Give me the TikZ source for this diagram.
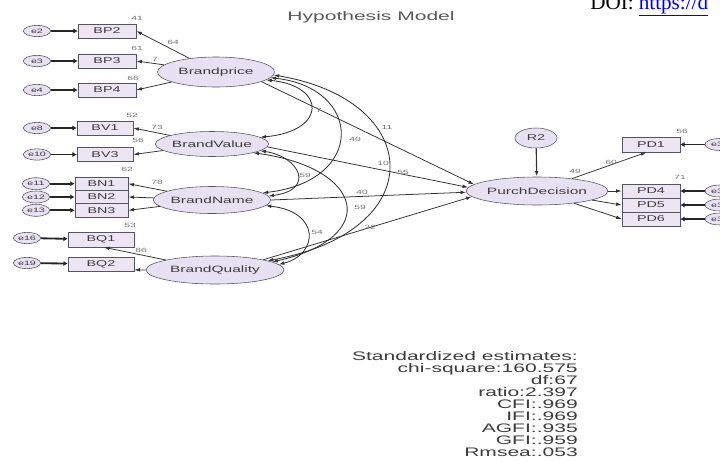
\documentclass[tikz,border=0pt]{standalone}
\usepackage{fontspec}
\usetikzlibrary{positioning, shapes.geometric, arrows.meta, calc}
\newfontfamily\amosfont[FakeStretch=1.7]{Liberation Sans}
\newfontfamily\doifont{Liberation Serif}
\definecolor{latfill}{RGB}{232,224,243}
\definecolor{boxfill}{RGB}{237,229,243}
\definecolor{edgegray}{RGB}{85,85,95}
\definecolor{txtgray}{RGB}{60,60,60}
\definecolor{doiblue}{RGB}{0,0,238}
\tikzset{
	latent/.style={shape=ellipse, draw=edgegray, fill=latfill, inner sep=0pt, text=txtgray, font={\amosfont\fontsize{6.5}{7}\selectfont}},
	errvar/.style={shape=ellipse, draw=edgegray, fill=latfill, inner sep=0pt, minimum width=0.68cm, minimum height=0.28cm, text=txtgray, font={\amosfont\fontsize{4.5}{5}\selectfont}},
	indic/.style={shape=rectangle, draw=edgegray, fill=boxfill, inner sep=0pt, minimum width=1.45cm, minimum height=0.36cm, text=txtgray, font={\amosfont\fontsize{6}{7}\selectfont}},
	est/.style={inner sep=0pt, text=black!55, font={\amosfont\fontsize{4.3}{5}\selectfont}},
	regpath/.style={draw=black!80, line width=0.55pt, -{Latex[length=4pt, width=2.6pt]}},
	covpath/.style={draw=black!80, line width=0.6pt, {Latex[length=4pt, width=2.6pt]}-{Latex[length=4pt, width=2.6pt]}},
	errpath/.style={draw=black!85, line width=1.3pt, -{Latex[length=3pt, width=3.6pt]}},
}
\begin{document}
\begin{tikzpicture}[x=0.025cm, y=-0.025cm]
		\useasboundingbox (0,0) rectangle (720,461);
		\node[anchor=base west, inner sep=0pt, font={\doifont\fontsize{15}{16}\selectfont}] (doi) at (590,9) {DOI: \textcolor{doiblue}{\underline{https://d}}};
		\node[anchor=base, inner sep=0pt, text=black!65, font={\amosfont\fontsize{8.8}{10}\selectfont}] (title) at (371,20) {Hypothesis Model};
		
		\node[latent, minimum width=2.925cm, minimum height=0.75cm] (bprice) at (216,72) {Brandprice};
		\node[latent, minimum width=2.75cm, minimum height=0.625cm] (bvalue) at (212,144) {BrandValue};
		\node[latent, minimum width=2.825cm, minimum height=0.675cm] (bname) at (212,200) {BrandName};
		\node[latent, minimum width=3.45cm, minimum height=0.7cm] (bquality) at (215,270) {BrandQuality};
		\node[latent, minimum width=2.75cm, minimum height=0.7cm] (purch) at (537,191) {PurchDecision};
		\node[latent, minimum width=1.05cm, minimum height=0.5cm, font={\amosfont\fontsize{6}{7}\selectfont}] (r2) at (536,138) {R2};
		
		\node[indic] (bp2) at (107,31) {BP2};
		\node[indic] (bp3) at (107,61) {BP3};
		\node[indic] (bp4) at (107,90) {BP4};
		\node[indic, minimum width=1.4cm, minimum height=0.35cm] (bv1) at (105,128) {BV1};
		\node[indic, minimum width=1.4cm] (bv3) at (105,154.5) {BV3};
		\node[indic, minimum width=1.33cm, minimum height=0.333cm] (bn1) at (101.5,183.7) {BN1};
		\node[indic, minimum width=1.33cm, minimum height=0.333cm] (bn2) at (101.5,197) {BN2};
		\node[indic, minimum width=1.33cm, minimum height=0.333cm] (bn3) at (101.5,210.3) {BN3};
		\node[indic, minimum width=1.65cm, minimum height=0.375cm] (bq1) at (101,239.5) {BQ1};
		\node[indic, minimum width=1.65cm, minimum height=0.35cm] (bq2) at (101,264) {BQ2};
		\node[indic, minimum height=0.375cm] (pd1) at (651,144.5) {PD1};
		\node[indic, minimum height=0.35cm] (pd4) at (651,191) {PD4};
		\node[indic, minimum height=0.35cm] (pd5) at (651,205) {PD5};
		\node[indic, minimum height=0.35cm] (pd6) at (651,219) {PD6};
		
		\node[errvar] (e2) at (37,31) {e2};
		\node[errvar] (e3) at (37,61) {e3};
		\node[errvar] (e4) at (37,90) {e4};
		\node[errvar] (e8) at (37,128) {e8};
		\node[errvar] (e10) at (37,154.5) {e10};
		\node[errvar, minimum height=0.3cm] (e11) at (36,183.7) {e11};
		\node[errvar, minimum height=0.3cm] (e12) at (36,197) {e12};
		\node[errvar, minimum height=0.3cm] (e13) at (36,210.3) {e13};
		\node[errvar] (e16) at (27,238) {e16};
		\node[errvar] (e19) at (27,263) {e19};
		\node[errvar, minimum width=0.75cm, minimum height=0.3cm] (e30) at (720,144.5) {e30};
		\node[errvar, minimum width=0.75cm, minimum height=0.3cm] (e32) at (720,191) {e32};
		\node[errvar, minimum width=0.75cm, minimum height=0.3cm] (e33) at (720,205) {e33};
		\node[errvar, minimum width=0.75cm, minimum height=0.3cm] (e34) at (720,219) {e34};
		
		\draw[errpath] (e2) -- (bp2);
		\draw[errpath] (e3) -- (bp3);
		\draw[errpath] (e4) -- (bp4);
		\draw[errpath] (e8) -- (bv1);
		\draw[errpath] (e10) -- (bv3);
		\draw[errpath] (e11) -- (bn1);
		\draw[errpath] (e12) -- (bn2);
		\draw[errpath] (e13) -- (bn3);
		\draw[errpath] (e16) -- (bq1);
		\draw[errpath] (e19) -- (bq2);
		\draw[errpath] (e30) -- (pd1);
		\draw[errpath] (e32) -- (pd4);
		\draw[errpath] (e33) -- (pd5);
		\draw[errpath] (e34) -- (pd6);
		
		\draw[regpath] (bprice) -- (bp2.east);
		\draw[regpath] (bprice) -- (bp3.east);
		\draw[regpath] (bprice) -- (bp4.east);
		\draw[regpath] (bvalue) -- (bv1.east);
		\draw[regpath] (bvalue) -- (bv3.east);
		\draw[regpath] (bname) -- (bn1.east);
		\draw[regpath] (bname) -- (bn2.east);
		\draw[regpath] (bname) -- (bn3.east);
		\draw[regpath] (bquality) -- (bq1.-70);
		\draw[regpath] (bquality) -- (bq2.-10);
		\draw[regpath] (purch) -- (pd1.-120);
		\draw[regpath] (purch) -- (pd4.west);
		\draw[regpath] (purch) -- (pd5.west);
		\draw[regpath] (purch) -- (pd6.west);
		\draw[regpath, line width=0.8pt] (r2) -- (purch);
		
		\draw[regpath] (bprice.-12) -- (purch.174);
		\draw[regpath] (bvalue.-3) -- (purch.177);
		\draw[regpath] (bname.0) -- (purch.181);
		\draw[regpath] (bquality.12) -- (purch.185);
		
		\draw[covpath] (bprice.-9) .. controls +(60,6) and +(67,-6) .. (bvalue.8);
		\draw[covpath] (bprice.-6) .. controls +(92,10) and +(104,-12) .. (bname.8);
		\draw[covpath] (bprice.-3) .. controls +(150,25) and +(165,-30) .. (bquality.10);
		\draw[covpath] (bvalue.-8) .. controls +(40,6) and +(47,-6) .. (bname.4);
		\draw[covpath] (bvalue.-12) .. controls +(110,15) and +(110,-25) .. (bquality.8);
		\draw[covpath] (bname.-6) .. controls +(55,6) and +(40,-10) .. (bquality.5);
		
		\node[est] (r2bp2) at (137,18) {41};
		\node[est] (r2bp3) at (137,48) {61};
		\node[est] (r2bp4) at (133,78) {66};
		\node[est] (r2bv1) at (132,115) {52};
		\node[est] (r2bv3) at (138,140) {56};
		\node[est] (r2bn) at (127,169) {62};
		\node[est] (r2bq) at (130,225) {53};
		\node[est] (ldbp2) at (173,42) {64};
		\node[est] (ldbp3) at (155,59) {7};
		\node[est] (ldbv1) at (157,127) {73};
		\node[est] (ldbn) at (157,182) {78};
		\node[est] (ldbq) at (141,250) {86};
		\node[est] (cvpv) at (319,110) {7};
		\node[est] (cvpn) at (355,139) {40};
		\node[est] (cvpq) at (383,163) {10};
		\node[est] (cvvn) at (305,175) {59};
		\node[est] (cvvq) at (360,207) {59};
		\node[est] (cvnq) at (317,232) {54};
		\node[est] (gmp) at (387,127) {11};
		\node[est] (gmv) at (403,172) {55};
		\node[est] (gmn) at (362,192) {40};
		\node[est] (gmq) at (370,227) {22};
		\node[est] (r2pd) at (575,171) {49};
		\node[est] (ldpd1) at (611,162) {60};
		\node[est] (r2pd1) at (682,131) {56};
		\node[est] (r2pd4) at (680,177) {71};
		
		\node[anchor=north east, inner sep=0pt, align=right, text=txtgray, font={\amosfont\fontsize{8.8}{8.55}\selectfont}] (fitstats) at (578,351) {Standardized estimates:\\chi-square:160.575\\df:67\\ratio:2.397\\CFI:.969\\IFI:.969\\AGFI:.935\\GFI:.959\\Rmsea:.053};
	\end{tikzpicture}
\end{document}
